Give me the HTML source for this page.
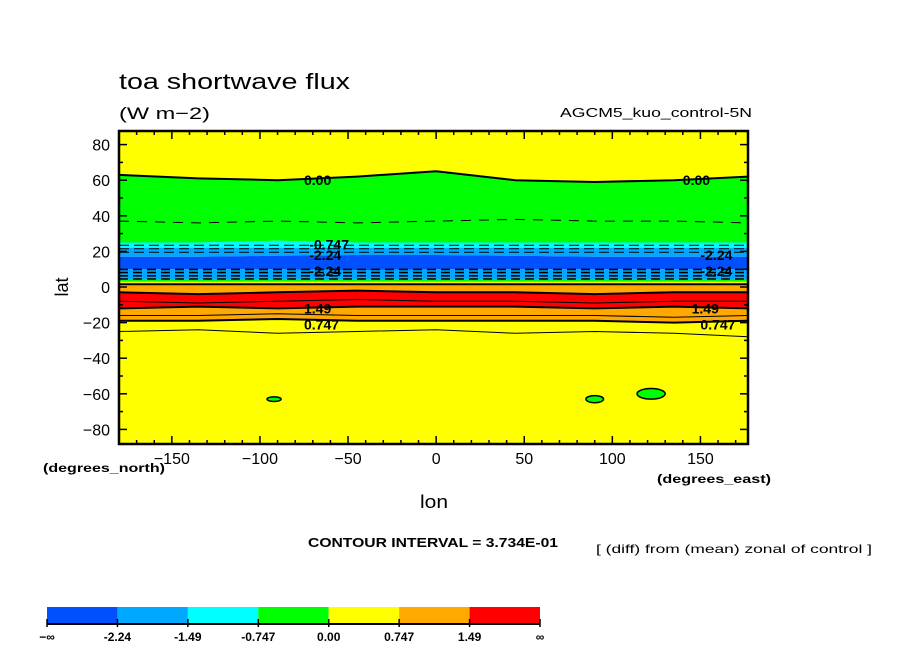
<!DOCTYPE html>
<html><head><meta charset="utf-8"><style>
body{margin:0;background:#fff;}
svg text{font-family:"Liberation Sans",sans-serif;}
</style></head><body>
<svg id="chart" width="904" height="654" xmlns="http://www.w3.org/2000/svg">
<text x="119" y="89" font-size="22" fill="#000" textLength="231" lengthAdjust="spacingAndGlyphs">toa shortwave flux</text>
<text x="119" y="119" font-size="17" fill="#000" textLength="91" lengthAdjust="spacingAndGlyphs">(W m−2)</text>
<text x="560" y="117" font-size="13" fill="#000" textLength="192" lengthAdjust="spacingAndGlyphs">AGCM5_kuo_control-5N</text>
<g id="plot"></g>
<g id="axes"></g>
<text transform="translate(68,287) rotate(-90)" font-size="18" text-anchor="middle">lat</text>
<text x="420" y="508" font-size="18" textLength="28" lengthAdjust="spacingAndGlyphs">lon</text>
<text x="43" y="472" font-size="12" font-weight="bold" textLength="122" lengthAdjust="spacingAndGlyphs">(degrees_north)</text>
<text x="657" y="483" font-size="12" font-weight="bold" textLength="114" lengthAdjust="spacingAndGlyphs">(degrees_east)</text>
<text x="308" y="547" font-size="13" font-weight="bold" textLength="250" lengthAdjust="spacingAndGlyphs">CONTOUR INTERVAL = 3.734E-01</text>
<text x="596" y="553" font-size="12" textLength="276" lengthAdjust="spacingAndGlyphs">[ (diff) from (mean) zonal of control ]</text>
<g id="cbar"></g>
</svg>
<script>
const lons=[-180,-135,-90,-45,0,45,90,135,177];
// boundary latitudes between color bands (north to south)
const b0=[63,61,60,62,65,60,59,60,62];
const b1=[25,25,26,25,25,25,25,25,25];
const b2=[22,22,22,22,22,22,22,22,22];
const b3=[17,17,17.5,18,18,17.5,17,17,17];
const b4=[10,10,10,9.5,10,10,10,10,10];
const b5=[4,4,4,4,4,4,4,4,4];
const b6=[3,3,3,3,3,3,3,3,3];
const b7=[1.5,1.5,1.5,1.5,1.5,1.5,1.5,1.5,1.5];
const b8=[-3,-4,-3,-2,-3,-3,-4,-3,-3];
const b9=[-12,-11,-12,-11,-11,-11,-12,-11,-12];
const b10=[-19,-19,-18,-19,-19,-19,-19,-20,-19];
const thinLine=[-25,-24,-26,-25,-24,-26,-25,-26,-28];
const dashA=[37,36,37,36,37,38,37,37,36];
const bandColors=["#ffff00","#00ff00","#00ffff","#00a8ff","#0050ff","#00a8ff","#00ff00","#ffff00","#ffa800","#ff0000","#ffa800","#ffff00"];
const cbColors=["#0050ff","#00a8ff","#00ffff","#00ff00","#ffff00","#ffa800","#ff0000"];
const cbLabels=["−∞","-2.24","-1.49","-0.747","0.00","0.747","1.49","∞"];
const xTicks=[-150,-100,-50,0,50,100,150];
const yTicks=[80,60,40,20,0,-20,-40,-60,-80];
const islands=[[-92,-63,4,1.3],[90,-63,5,2],[122,-60,8,3]];
const labels=[["0.00",-75,60],["0.00",140,60],["-0.747",-72,24],["-2.24",-72,18],["-2.24",-72,9],["0.747",-75,-21],["1.49",-75,-12],["0.747",150,-21],["1.49",145,-12],["-2.24",150,18],["-2.24",150,9]];

const NS="http://www.w3.org/2000/svg";
const L=119,R=748,T=131,B=444;
const x=lo=>L+(lo+180)/357*(R-L);
const y=la=>287-la*1.78;
const mk=(t,a,p)=>{const e=document.createElementNS(NS,t);for(const k in a)e.setAttribute(k,a[k]);p.appendChild(e);return e;};
const plot=document.getElementById('plot');
const bounds=[[88,88,88,88,88,88,88,88,88],b0,b1,b2,b3,b4,b5,b6,b7,b8,b9,b10,[-88,-88,-88,-88,-88,-88,-88,-88,-88]];
const linePts=arr=>lons.map((lo,i)=>x(lo).toFixed(1)+","+y(arr[i]).toFixed(1));
mk('clipPath',{id:'pc'},plot);
mk('rect',{x:L,y:T,width:R-L,height:B-T},document.getElementById('pc'));
const g=mk('g',{'clip-path':'url(#pc)'},plot);
for(let i=0;i<bandColors.length;i++){
  const top=linePts(bounds[i]),bot=linePts(bounds[i+1]).reverse();
  const p=mk('polygon',{points:top.concat(bot).join(' '),fill:bandColors[i]},g);
  
  
}
// dense dashed region
for(let la=4.5;la<10;la+=1.8){
  const l=mk('polyline',{points:linePts(b5.map(()=>la)).join(' '),fill:'none',stroke:'#000','stroke-width':1.6,'stroke-dasharray':'9,5'},g);
  
  
}
for(let la=19.5;la<25;la+=2){
  const l=mk('polyline',{points:linePts(b5.map(()=>la)).join(' '),fill:'none',stroke:'#000','stroke-width':1,'stroke-dasharray':'10,5'},g);
  
  
}
const dl=mk('polyline',{points:linePts(dashA).join(' '),fill:'none',stroke:'#000','stroke-width':1,'stroke-dasharray':'10,8'},g);


[b0,b7,b8,b9,b10].forEach(a=>{
  const l=mk('polyline',{points:linePts(a).join(' '),fill:'none',stroke:'#000','stroke-width':2},g);
  
  
});
[thinLine,b8.map(v=>v-5),b10.map(v=>v+3)].forEach(a=>{
  const l=mk('polyline',{points:linePts(a).join(' '),fill:'none',stroke:'#000','stroke-width':1},g);
  
  
});
islands.forEach(s=>{
  const e=mk('ellipse',{cx:x(s[0]),cy:y(s[1]),rx:s[2]*1.76,ry:s[3]*1.78,fill:'#00ff00',stroke:'#000','stroke-width':1.5},g);
  
  
});
labels.forEach(s=>{
  const t=mk('text',{x:x(s[1]),y:y(s[2])+5,'font-size':14,'font-weight':'bold',fill:'#000'},g);
  t.textContent=s[0];
  
  
});
const ax=document.getElementById('axes');
mk('rect',{x:L,y:T,width:R-L,height:B-T,fill:'none',stroke:'#000','stroke-width':2.5},ax);
for(let lo=-170;lo<=170;lo+=10){
  const maj=xTicks.includes(lo);
  mk('line',{x1:x(lo),x2:x(lo),y1:B,y2:B-(maj?8:4),stroke:'#000','stroke-width':1.5},ax);
  mk('line',{x1:x(lo),x2:x(lo),y1:T,y2:T+(maj?8:4),stroke:'#000','stroke-width':1.5},ax);
}
xTicks.forEach(v=>{
  const t=mk('text',{x:x(v),y:B+20,'font-size':16,'text-anchor':'middle'},ax);
  t.textContent=v<0?'−'+(-v):v;
  
  
});
for(let la=-80;la<=80;la+=10){
  const maj=yTicks.includes(la);
  mk('line',{x1:L,x2:L+(maj?8:4),y1:y(la),y2:y(la),stroke:'#000','stroke-width':1.5},ax);
  mk('line',{x1:R,x2:R-(maj?8:4),y1:y(la),y2:y(la),stroke:'#000','stroke-width':1.5},ax);
}
yTicks.forEach(v=>{
  const t=mk('text',{x:L-9,y:y(v)+6,'font-size':16,'text-anchor':'end'},ax);
  t.textContent=v<0?'−'+(-v):v;
  
  
});
const cb=document.getElementById('cbar');
const cw=(540-47)/cbColors.length;
cbColors.forEach((c,i)=>{
  const r=mk('rect',{x:47+i*cw,y:607,width:cw,height:17,fill:c},cb);
  
  
});
mk('line',{x1:47,x2:540,y1:624,y2:624,stroke:'#000','stroke-width':2},cb);
cbLabels.forEach((s,i)=>{
  mk('line',{x1:47+i*cw,x2:47+i*cw,y1:619,y2:627,stroke:'#000','stroke-width':1.5},cb);
  const t=mk('text',{x:47+i*cw,y:641,'font-size':12,'font-weight':'bold','text-anchor':'middle'},cb);
  t.textContent=s;
  
  
});
</script>
</body></html>
